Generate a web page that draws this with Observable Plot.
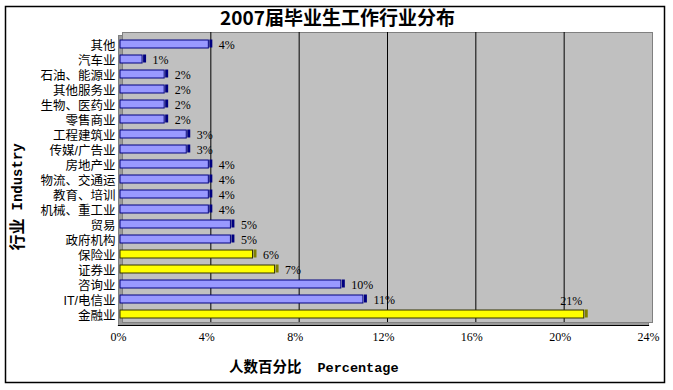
<!DOCTYPE html>
<html><head><meta charset="utf-8">
<script src="https://cdn.jsdelivr.net/npm/d3@7"></script>
<script src="https://cdn.jsdelivr.net/npm/@observablehq/plot@0.6"></script>
<style>
body{margin:0;background:#fff;}
#chart{width:673px;height:390px;}
</style></head><body><div id="chart"></div>
<script>
const categories = ["其他","汽车业","石油、能源业","其他服务业","生物、医药业","零售商业","工程建筑业","传媒/广告业","房地产业","物流、交通运","教育、培训","机械、重工业","贸易","政府机构","保险业","证券业","咨询业","IT/电信业","金融业"];
const values = [4,1,2,2,2,2,3,3,4,4,4,4,5,5,6,7,10,11,21];
const highlighted = ["保险业","证券业","金融业"];
const xTicks = [0,4,8,12,16,20,24];
const gridTicks = [4,8,12,16,20];
const title = "2007届毕业生工作行业分布";
const xTitleZh = "人数百分比";
const xTitleEn = "Percentage";
const yTitleZh = "行业";
const yTitleEn = "Industry";

const data = categories.map((c, i) => ({category: c, value: values[i], hi: highlighted.includes(c)}));
const maxV = d3.max(values);
const cjk = "'Noto Sans CJK SC', sans-serif";
const labelFont = "'Liberation Sans', 'Noto Sans CJK SC', sans-serif";
const num = "'Liberation Serif', serif";
const mono = "'Liberation Mono', monospace";

const chart = Plot.plot({
  width: 673, height: 390,
  marginLeft: 118, marginRight: 25, marginTop: 35, marginBottom: 65,
  style: {fontFamily: cjk, background: "#fff", overflow: "visible"},
  x: {domain: [0, 24], ticks: xTicks, tickFormat: d => d + "%", label: null},
  y: {domain: categories, paddingInner: 0.45, paddingOuter: 0.225, label: null},
  color: {type: "identity"},
  marks: [
    Plot.frame({fill: "#9a9a9a", stroke: "#808080"}),
    Plot.frame({fill: "#c0c0c0", stroke: "#808080", dx: 4, dy: -3}),
    Plot.ruleX(gridTicks, {stroke: "#000", strokeWidth: 1, dx: 4, dy: -3}),
    Plot.barX(data, {x: "value", y: "category", fill: d => d.hi ? "#ffff00" : "#9999ff", stroke: d => d.hi ? "#333300" : "#000080", strokeWidth: 1, dx: 2, dy: -1}),
    Plot.tickX(data, {x: "value", y: "category", stroke: d => d.hi ? "#808000" : "#000080", strokeWidth: 3, dx: 4, dy: -1.5}),
    Plot.text(data.filter(d => d.value < maxV), {x: "value", y: "category", text: d => d.value + "%", textAnchor: "start", dx: 12, fontFamily: num, fontSize: 12, fill: "#000"}),
    Plot.text(data.filter(d => d.value === maxV), {x: "value", y: "category", text: d => d.value + "%", textAnchor: "end", dx: 0, dy: -14, fontFamily: num, fontSize: 12, fill: "#000"}),
    Plot.frame({anchor: "bottom", stroke: "#000", strokeWidth: 1.2}),
    Plot.axisX({ticks: xTicks, tickFormat: d => d + "%", tickSize: 0, tickPadding: 7, fontFamily: num, fontSize: 12, label: null}),
    Plot.axisY({tickSize: 0, tickPadding: 3, fontSize: 12.5, fontFamily: labelFont, label: null}),
    Plot.text([title], {frameAnchor: "top", dx: -46, dy: -17, fontSize: 19, fontWeight: "bold", fontFamily: cjk, lineAnchor: "middle", fill: "#000"}),
    Plot.text([xTitleZh], {frameAnchor: "bottom", dx: -82, dy: 42, textAnchor: "end", fontSize: 14.5, fontWeight: "bold", fontFamily: cjk, lineAnchor: "middle", fill: "#000"}),
    Plot.text([xTitleEn], {frameAnchor: "bottom", dx: -66, dy: 42, textAnchor: "start", fontSize: 13.5, fontWeight: "bold", fontFamily: mono, lineAnchor: "middle", fill: "#000"}),
    Plot.text([yTitleZh], {frameAnchor: "left", dx: -101, dy: 38, rotate: -90, textAnchor: "end", fontSize: 16, fontWeight: "bold", fontFamily: cjk, lineAnchor: "middle", fill: "#000"}),
    Plot.text([yTitleEn], {frameAnchor: "left", dx: -101, dy: 30, rotate: -90, textAnchor: "start", fontSize: 14, fontWeight: "bold", fontFamily: mono, lineAnchor: "middle", fill: "#000"})
  ]
});

d3.select(chart).insert("rect", ":first-child")
  .attr("x", 5.5).attr("y", 6.5).attr("width", 659).attr("height", 376)
  .attr("fill", "none").attr("stroke", "#000").attr("stroke-width", 1.5);

document.getElementById("chart").append(chart);
</script>
</body></html>
